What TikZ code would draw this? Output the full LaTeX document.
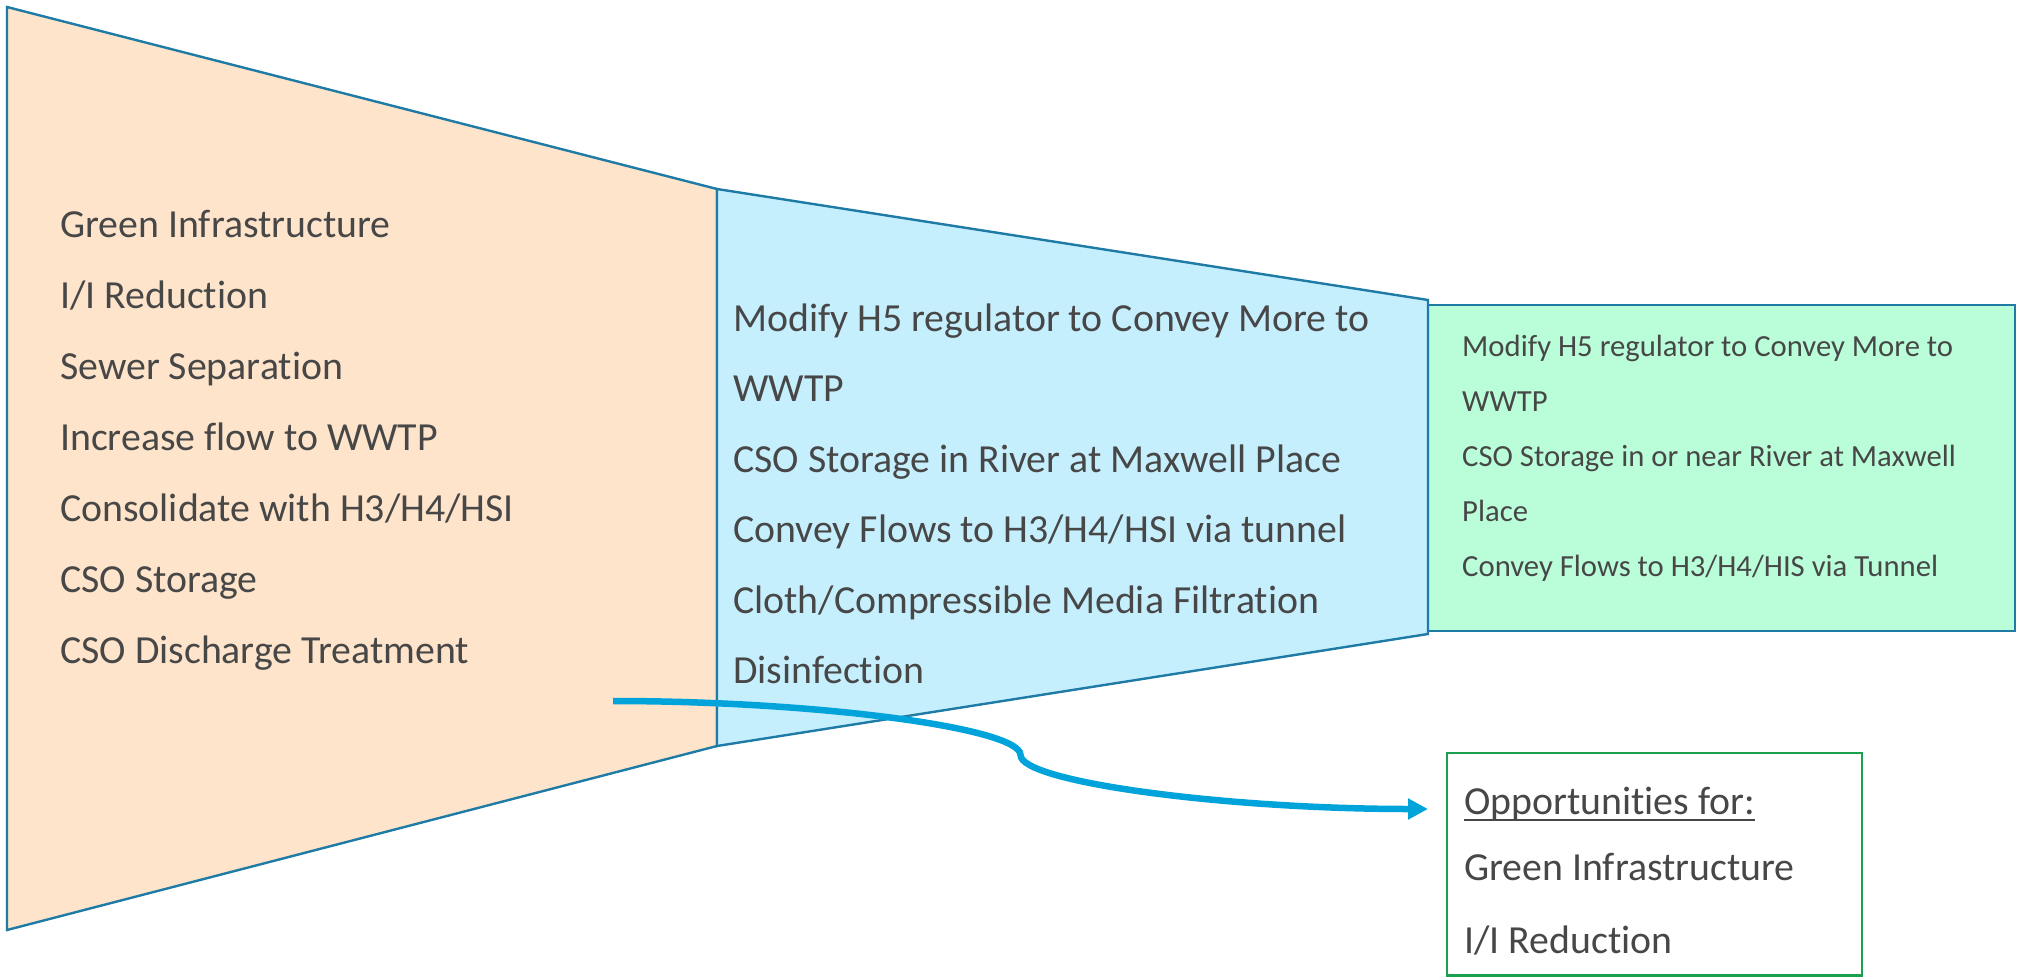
\documentclass[tikz,border=0pt]{standalone}
\usepackage{fontspec}
\setmainfont{Carlito}[Ligatures={NoCommon}]
\usetikzlibrary{arrows.meta,calc}
\definecolor{edgeteal}{HTML}{1E7BA6}
\definecolor{peach}{HTML}{FEE4CA}
\definecolor{skyfill}{HTML}{C6EFFE}
\definecolor{mintfill}{HTML}{B9FED9}
\definecolor{boxgreen}{HTML}{1AA04E}
\definecolor{flowblue}{HTML}{00A3DA}
\definecolor{inktext}{HTML}{474747}
\begin{document}
\begin{tikzpicture}[x=1bp,y=-1bp,
  panel/.style={draw=edgeteal, line width=2.4bp, line join=miter},
  bigtxt/.style={anchor=base west, inner sep=0pt, text=inktext,
    font=\fontsize{39.8bp}{47bp}\selectfont},
  smalltxt/.style={anchor=base west, inner sep=0pt, text=inktext,
    font=\fontsize{30.7bp}{36bp}\selectfont},
  flow/.style={draw=flowblue, line width=6.5bp,
    -{Triangle[length=20bp,width=20bp]}}
]
\useasboundingbox (0,0) rectangle (2017,977);

% funnel stages
\filldraw[panel, fill=peach] (7,7) -- (717,189) -- (717,746) -- (7,930) -- cycle;
\filldraw[panel, fill=mintfill] (1428,305) rectangle (2015,631);
\filldraw[panel, fill=skyfill] (717,189) -- (1428,300) -- (1428,634) -- (717,746) -- cycle;

% outcome box
\draw[draw=boxgreen, line width=2.6bp] (1447,753) rectangle (1862,975.5);

% first stage: all candidate measures
\foreach \t [count=\i] in {Green Infrastructure, I/I Reduction, Sewer Separation,
    Increase flow to WWTP, Consolidate with H3/H4/HSI, CSO Storage,
    CSO Discharge Treatment}
  \node[bigtxt] (wide\i) at (60,{237+71*(\i-1)}) {\t};

% second stage: screened measures
\foreach \t [count=\i] in {Modify H5 regulator to Convey More to, WWTP,
    CSO Storage in River at Maxwell Place, Convey Flows to H3/H4/HSI via tunnel,
    Cloth/Compressible Media Filtration, Disinfection}
  \node[bigtxt] (mid\i) at (733,{331+70.5*(\i-1)}) {\t};

% third stage: selected measures
\foreach \t [count=\i] in {Modify H5 regulator to Convey More to, WWTP,
    CSO Storage in or near River at Maxwell, Place,
    Convey Flows to H3/H4/HIS via Tunnel}
  \node[smalltxt] (fin\i) at (1462,{356+55.2*(\i-1)}) {\t};

% outcome box text
\node[bigtxt] (opp) at (1464,814) {Opportunities for:};
\draw[inktext, line width=2.6bp] ([yshift=-6bp]opp.base west) -- ([yshift=-6bp]opp.base east);
\node[bigtxt] (oppgi) at (1464,880) {Green Infrastructure};
\node[bigtxt] (oppii) at (1464,953) {I/I Reduction};

% curved connector to the outcome box
\coordinate (flowstart) at (613,701);
\coordinate (flowend) at (1428,809);
\coordinate (q1) at ($(flowstart)!0.25!(flowend)$);
\coordinate (qm) at ($(flowstart)!0.5!(flowend)$);
\coordinate (q3) at ($(flowstart)!0.75!(flowend)$);
\draw[flow] (flowstart) .. controls (q1 |- flowstart) and (qm |- q1) .. (qm)
  .. controls (qm |- q3) and (q3 |- flowend) .. (flowend);
\end{tikzpicture}
\end{document}
